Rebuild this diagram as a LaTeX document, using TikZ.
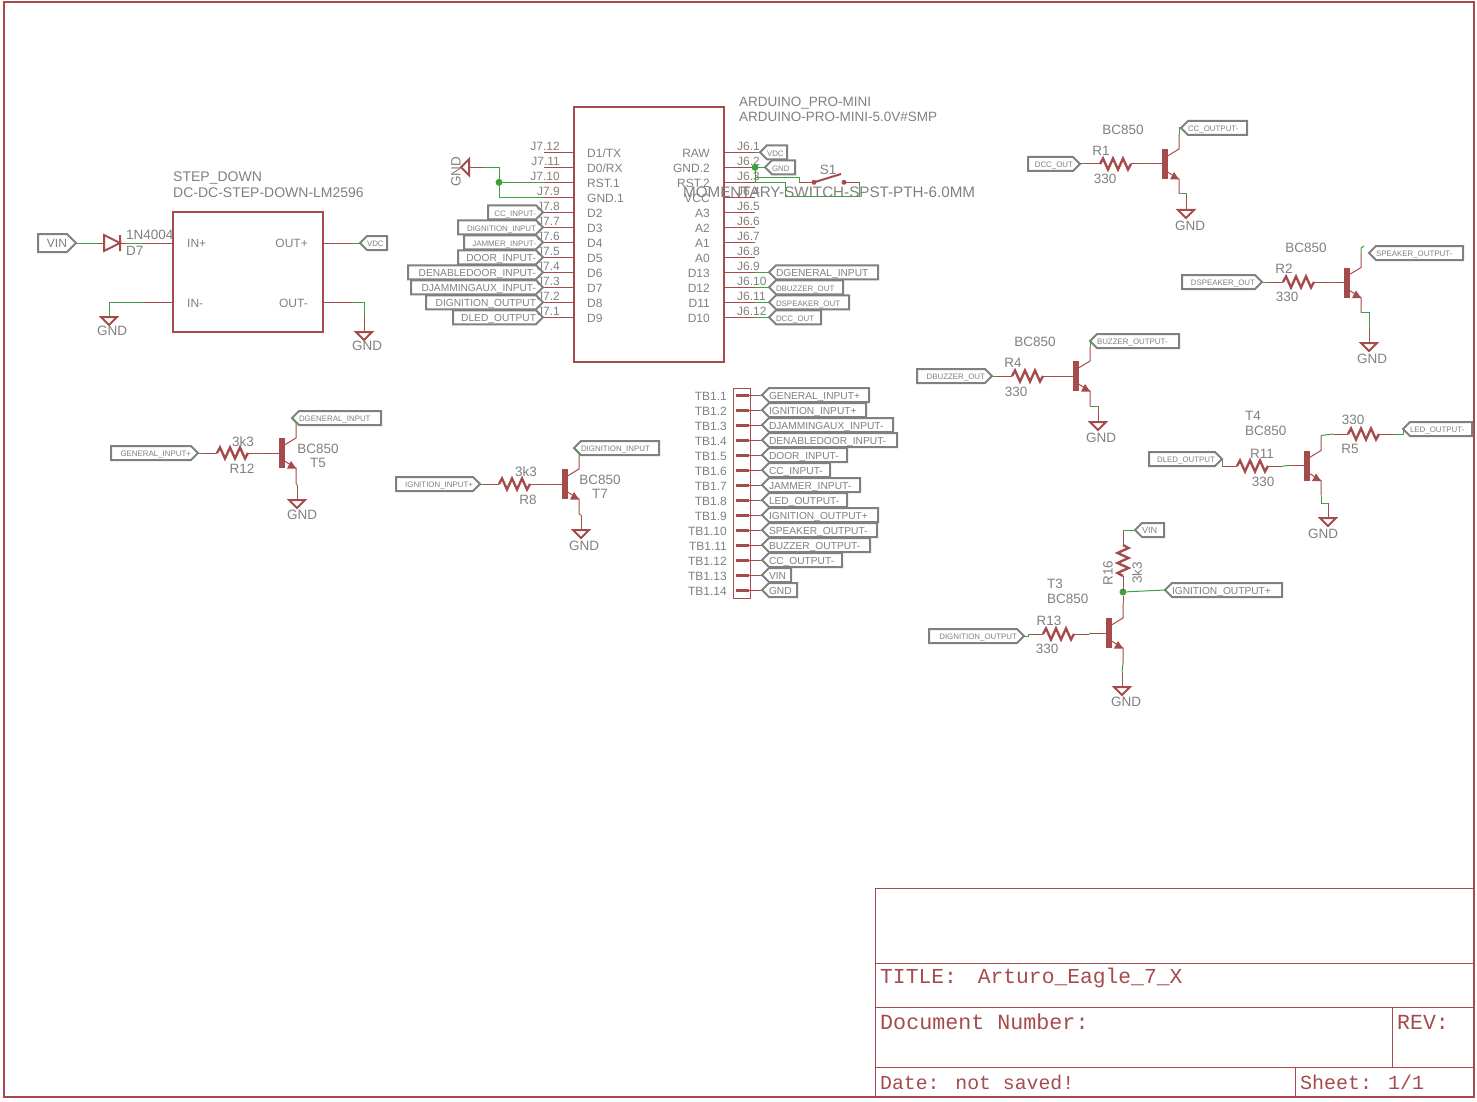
\documentclass[tikz,border=0pt]{standalone}
\usepackage{fontspec}
\setmainfont{Liberation Sans}
\newfontfamily\blockfont{Liberation Mono}
\usetikzlibrary{shapes.symbols}
\definecolor{schred}{RGB}{165,75,75}
\definecolor{schgreen}{RGB}{63,160,63}
\definecolor{labgray}{RGB}{128,128,128}
\newcommand{\pxfont}[1]{\fontsize{#1}{#1}\selectfont}
\tikzset{
  pinwire/.style={schred,line width=1pt},
  netwire/.style={schgreen,line width=1pt},
  partbox/.style={draw=schred,line width=2pt,inner sep=0,outer sep=0},
  partlbl/.style={text=labgray,font={\pxfont{13.5}},inner sep=0,yshift=-1pt},
  pinlbl/.style={text=labgray,font={\pxfont{12}},inner sep=0,yshift=-1pt},
  blocklbl/.style={text=schred,font={\blockfont\pxfont{21.5}},inner sep=0,anchor=west,yshift=-1pt},
  netlab/.style={shape=signal,signal pointer angle=90,draw=labgray,line width=2pt,text=labgray,inner sep=0,outer sep=0,minimum height=14},
  netr/.style={netlab,signal to=east,anchor=east,align=right},
  netl/.style={netlab,signal to=west,anchor=west,align=left},
  labw/.style={text width={((#1)-7)*1pt},minimum width={(#1)*1pt}},
  big/.style={font={\pxfont{10.2}},text height=9.3,text depth=0},
  small/.style={font={\pxfont{7.9}},text height=7.7,text depth=0},
  junct/.style={circle,fill=schgreen,inner sep=0,minimum size=7},
  resistor/.pic={
    \draw[pinwire] (-15,0) coordinate (-a) -- (0,0);
    \draw[schred,line width=2.4pt] (0,0) -- (3,-5.5) -- (8,5.5) -- (13,-5.5) -- (18,5.5) -- (23,-5.5) -- (28,5.5) -- (31,0);
    \draw[pinwire] (31,0) -- (46,0) coordinate (-k);
  },
  npn/.pic={
    \fill[schred] (0,-15) rectangle (5.5,15);
    \draw[pinwire] (-15,0) coordinate (-b) -- (0,0);
    \draw[pinwire] (5.5,-8) -- (17,-15) -- (17,-30) coordinate (-c);
    \draw[pinwire] (5.5,8) -- (17,15) -- (17,30) coordinate (-e);
    \fill[schred] (17,15.5) -- (12,8) -- (8,15.5) -- cycle;
  },
  gndsym/.pic={
    \draw[pinwire] (0,-15) coordinate (-t) -- (0,0) coordinate (-m);
    \draw[schred,line width=2pt] (-8,0) -- (8,0) -- (0,8) -- cycle;
  },
}
\begin{document}
\begin{tikzpicture}[x=1pt,y=-1pt]
  \useasboundingbox (0,0) rectangle (1477,1102);
  % sheet frame and title block
  \draw[schred,line width=2pt] (4,2) rectangle (1474,1097);
  \draw[schred,line width=1pt] (875,888) rectangle (1474,1097);
  \draw[schred,line width=1pt] (875,963) -- (1474,963) (875,1007) -- (1474,1007) (875,1067) -- (1474,1067);
  \draw[schred,line width=1pt] (1392,1007) -- (1392,1067) (1295,1067) -- (1295,1097);
  \node[blocklbl,font={\blockfont\pxfont{21.3}}] (title) at (880,977) {TITLE:\hspace{21pt}Arturo\_Eagle\_7\_X};
  \node[blocklbl,font={\blockfont\pxfont{21.7}}] (docnum) at (880,1021) {Document Number:};
  \node[blocklbl] (rev) at (1397,1021) {REV:};
  \node[blocklbl,font={\blockfont\pxfont{19.8}}] (date) at (880,1081) {Date: not saved!};
  \node[blocklbl,font={\blockfont\pxfont{20}}] (sheet) at (1300,1081) {Sheet: 1/1};

  % step down module
  \node[partbox,minimum width=150,minimum height=120] (stepdown) at (248,272) {};
  \node[partlbl,font={\pxfont{14}},anchor=west] (stepname) at (173,177) {STEP\_DOWN};
  \node[partlbl,font={\pxfont{14}},anchor=west] (stepval) at (173,192) {DC-DC-STEP-DOWN-LM2596};
  \node[pinlbl,anchor=west] (inp) at (187,242) {IN+};
  \node[pinlbl,anchor=west] (inm) at (187,302) {IN-};
  \node[pinlbl,anchor=east] (outp) at (308,242) {OUT+};
  \node[pinlbl,anchor=east] (outm) at (308,302) {OUT-};
  \node[netr,font={\pxfont{12}},text height=8.6,text depth=0,text width=29pt,minimum width=38,minimum height=18] (vinl) at (76,243) {VIN};
  \coordinate (da) at (97,243);
  \coordinate (dk) at (127,243);
  \coordinate (inpin) at (143,243);
  \draw[netwire] (vinl.east) -- (da);
  \draw[pinwire] (da) -- (104,243) (120,243) -- (dk);
  \draw[schred,line width=2pt] (104,235) -- (120,243) -- (104,251) -- cycle (120,235) -- (120,251);
  \draw[netwire] (dk) -- (inpin);
  \draw[pinwire] (inpin) -- (stepdown.west |- inpin);
  \node[partlbl,anchor=west] (d7val) at (126,234) {1N4004};
  \node[partlbl,anchor=west] (d7) at (126,250) {D7};
  \coordinate (outppin) at (353,243);
  \draw[pinwire] (stepdown.east |- outppin) -- (outppin);
  \node[netl,small,labw=27] (vdca) at (360,243) {VDC};
  \draw[netwire] (outppin) -- (vdca.west);
  \coordinate (inmpin) at (143,302);
  \coordinate (outmpin) at (353,302);
  \draw[pinwire] (inmpin) -- (stepdown.west |- inmpin);
  \draw[pinwire] (stepdown.east |- outmpin) -- (outmpin);
  \pic (gnda) at (109,317) {gndsym};
  \pic (gndb) at (364,332) {gndsym};
  \draw[netwire] (inmpin) -- (gnda-t) -- (gnda-m);
  \draw[netwire] (outmpin) -| (gndb-t);
  \node[partlbl] (gndatxt) at (112,330) {GND};
  \node[partlbl] (gndbtxt) at (367,345) {GND};

  % pro mini
  \node[partbox,minimum width=150,minimum height=255] (mini) at (649,234.5) {};
  \node[partlbl,anchor=west] (mininame) at (739,102) {ARDUINO\_PRO-MINI};
  \node[partlbl,anchor=west] (minival) at (739,116) {ARDUINO-PRO-MINI-5.0V\#SMP};
  \foreach \pn/\jn [count=\k from 0, evaluate=\k as \y using 152.3+15*\k] in {{D1/TX}/J7.12,{D0/RX}/J7.11,RST.1/J7.10,GND.1/J7.9,D2/J7.8,D3/J7.7,D4/J7.6,D5/J7.5,D6/J7.4,D7/J7.3,D8/J7.2,D9/J7.1} {
    \coordinate (jl\k) at (544,\y);
    \draw[pinwire] (jl\k) -- (mini.west |- jl\k);
    \node[pinlbl,anchor=west] (pl\k) at (587,\y) {\pn};
    \node[pinlbl,anchor=east] (jlt\k) at (560,\y-7) {\jn};
  }
  \foreach \pn/\jn [count=\k from 0, evaluate=\k as \y using 152.3+15*\k] in {RAW/J6.1,GND.2/J6.2,RST.2/J6.3,VCC/J6.4,A3/J6.5,A2/J6.6,A1/J6.7,A0/J6.8,D13/J6.9,D12/J6.10,D11/J6.11,D10/J6.12} {
    \coordinate (jr\k) at (755,\y);
    \draw[pinwire] (mini.east |- jr\k) -- (jr\k);
    \node[pinlbl,anchor=east] (pr\k) at (710,\y) {\pn};
    \node[pinlbl,anchor=west] (jrt\k) at (737,\y-7) {\jn};
  }
  \foreach \n/\lx/\k/\f/\s in {cci/488/4/small/CC\_INPUT-,dignin/458/5/small/DIGNITION\_INPUT,jami/464/6/small/JAMMER\_INPUT-,doori/458/7/big/DOOR\_INPUT-,denabi/408/8/big/DENABLEDOOR\_INPUT-,djami/411/9/big/DJAMMINGAUX\_INPUT-,digout/426/10/big/DIGNITION\_OUTPUT,dledo/453/11/big/DLED\_OUTPUT} {
    \node[netr,\f,labw={543-\lx}] (\n) at (543,152.3+15*\k) {\s};
    \draw[netwire] (\n.east) -- (jl\k);
  }
  \foreach \n/\rx/\k/\f/\s in {dgeni/878/8/big/DGENERAL\_INPUT,dbuzo/843/9/small/DBUZZER\_OUT,dspko/849/10/small/DSPEAKER\_OUT,dccout/821/11/small/DCC\_OUT} {
    \node[netl,\f,labw={\rx-769}] (\n) at (769,152.3+15*\k) {\s};
    \draw[netwire] (jr\k) -- (\n.west);
  }
  \node[netl,small,labw=27] (vdcb) at (760,152.3) {VDC};
  \node[netl,small,labw=30] (gndl) at (765,167.3) {GND};
  \draw[netwire] (jr0) -- (vdcb.west);
  \draw[netwire] (jr1) -- (gndl.west);
  \draw[netwire] (jr1) -- (jr2);
  \node[junct] (jnb) at (jr1) {};

  % left gnd of the mini
  \pic[rotate=-90] (gndc) at (469,167.3) {gndsym};
  \coordinate (gndcnr) at (499,167.3);
  \draw[netwire] (gndc-t) -- (gndcnr) -- (gndcnr |- jl3) -- (jl3);
  \draw[netwire] (gndcnr |- jl2) -- (jl2);
  \node[junct] (jna) at (gndcnr |- jl2) {};
  \node[partlbl,rotate=90] (gndctxt) at (456,171) {GND};

  % reset switch
  \coordinate (s1a) at (799,182.3);
  \coordinate (s1b) at (859,182.3);
  \draw[pinwire] (s1a) -- (814,182.3) (844,182.3) -- (s1b);
  \draw[schred,line width=2pt] (814,182.3) -- (841,174);
  \fill[schred] (814,182.3) circle (2.5) (844,182.3) circle (2.5);
  \draw[netwire] (755,178) -- (799,178) -- (s1a);
  \draw[netwire] (jr2) -- (785,182.3) -- (785,197) -- (859,197) -- (s1b);
  \node[partlbl] (s1txt) at (828,169) {S1};
  \node[partlbl,font={\pxfont{15.2}},anchor=west] (s1val) at (683,191) {MOMENTARY-SWITCH-SPST-PTH-6.0MM};

  % terminal block
  \node[draw=schred,line width=1pt,inner sep=0,minimum width=17,minimum height=210] (tb) at (742,493) {};
  \foreach \tn/\rx/\f/\s [count=\k from 0, evaluate=\k as \y using 395+15*\k] in {TB1.1/869/big/GENERAL\_INPUT+,TB1.2/866/big/IGNITION\_INPUT+,TB1.3/893/big/DJAMMINGAUX\_INPUT-,TB1.4/897/big/DENABLEDOOR\_INPUT-,TB1.5/847/big/DOOR\_INPUT-,TB1.6/830/big/CC\_INPUT-,TB1.7/860/big/JAMMER\_INPUT-,TB1.8/847/big/LED\_OUTPUT-,TB1.9/878/big/IGNITION\_OUTPUT+,TB1.10/877/big/SPEAKER\_OUTPUT-,TB1.11/870/big/BUZZER\_OUTPUT-,TB1.12/842/big/CC\_OUTPUT-,TB1.13/791/big/VIN,TB1.14/797/big/GND} {
    \draw[schred,line width=3pt] (736,\y) -- (749,\y);
    \coordinate (tbp\k) at (760,\y);
    \draw[pinwire] (749,\y) -- (tbp\k);
    \node[netl,\f,labw={\rx-762}] (tbl\k) at (762,\y) {\s};
    \draw[netwire] (tbp\k) -- (tbl\k.west);
    \node[pinlbl,anchor=east] (tbt\k) at (727,\y) {\tn};
  }

  % T5
  \pic (r12) at (217,453) {resistor};
  \pic (t5) at (279,453) {npn};
  \pic (gndt5) at (297,500) {gndsym};
  \node[netr,small,labw=87] (ginp) at (198,453) {GENERAL\_INPUT+};
  \node[netl,small,labw=89] (dginp) at (292,418) {DGENERAL\_INPUT};
  \draw[netwire] (ginp.east) -- (r12-a);
  \draw[netwire] (r12-k) -- (t5-b);
  \draw[netwire] (t5-c) -- (dginp.west);
  \draw[netwire] (t5-e) -- (gndt5-t);
  \node[partlbl] (r12val) at (243,441) {3k3};
  \node[partlbl] (r12txt) at (242,468) {R12};
  \node[partlbl] (t5val) at (318,448) {BC850};
  \node[partlbl] (t5txt) at (318,462) {T5};
  \node[partlbl] (gndt5txt) at (302,514) {GND};

  % T7
  \pic (r8) at (499,484) {resistor};
  \pic (t7) at (562,484) {npn};
  \pic (gndt7) at (581,530) {gndsym};
  \node[netr,small,labw=84] (iginp) at (480,484) {IGNITION\_INPUT+};
  \node[netl,small,labw=85] (diginp) at (574,448) {DIGNITION\_INPUT};
  \draw[netwire] (iginp.east) -- (r8-a);
  \draw[netwire] (r8-k) -- (t7-b);
  \draw[netwire] (t7-c) -- (diginp.west);
  \draw[netwire] (t7-e) -- (gndt7-t);
  \node[partlbl] (r8val) at (526,471) {3k3};
  \node[partlbl] (r8txt) at (528,499) {R8};
  \node[partlbl] (t7val) at (600,479) {BC850};
  \node[partlbl] (t7txt) at (600,493) {T7};
  \node[partlbl] (gndt7txt) at (584,545) {GND};

  % T1
  \pic (r1) at (1100,164) {resistor};
  \pic (t1) at (1162,164) {npn};
  \pic (gndt1) at (1186,210) {gndsym};
  \node[netr,small,labw=52] (dccin) at (1080,164) {DCC\_OUT};
  \node[netl,small,labw=66] (ccout) at (1181,128) {CC\_OUTPUT-};
  \draw[netwire] (dccin.east) -- (r1-a);
  \draw[netwire] (r1-k) -- (t1-b);
  \draw[netwire] (t1-c) |- (ccout.west);
  \draw[netwire] (t1-e) -| (gndt1-t);
  \node[partlbl] (t1val) at (1123,129) {BC850};
  \node[partlbl] (r1txt) at (1101,150) {R1};
  \node[partlbl] (r1val) at (1105,178) {330};
  \node[partlbl] (gndt1txt) at (1190,225) {GND};

  % T2
  \pic (r2) at (1283,282) {resistor};
  \pic (t2) at (1344,282.5) {npn};
  \pic (gndt2) at (1369,343) {gndsym};
  \node[netr,small,labw=80] (dspkin) at (1262,282) {DSPEAKER\_OUT};
  \node[netl,small,labw=94] (spko) at (1369,253) {SPEAKER\_OUTPUT-};
  \coordinate (t2end) at (1364,246);
  \draw[netwire] (dspkin.east) -- (r2-a);
  \draw[netwire] (r2-k) -- (t2-b);
  \draw[netwire] (t2-c) -- (1361,248) -- (t2end);
  \draw[netwire] (t2-e) -| (gndt2-t);
  \node[partlbl] (t2val) at (1306,247) {BC850};
  \node[partlbl] (r2txt) at (1284,268) {R2};
  \node[partlbl] (r2val) at (1287,296) {330};
  \node[partlbl] (gndt2txt) at (1372,358) {GND};

  % T4 (buzzer)
  \pic (r4) at (1012,376) {resistor};
  \pic (t6) at (1073,376) {npn};
  \pic (gndt6) at (1098,422) {gndsym};
  \node[netr,small,labw=75] (dbuzin) at (992,376) {DBUZZER\_OUT};
  \node[netl,small,labw=89] (buzo) at (1090,341) {BUZZER\_OUTPUT-};
  \draw[netwire] (dbuzin.east) -- (r4-a);
  \draw[netwire] (r4-k) -- (t6-b);
  \draw[netwire] (t6-c) -- (buzo.west);
  \draw[netwire] (t6-e) -| (gndt6-t);
  \node[partlbl] (t6val) at (1035,341) {BC850};
  \node[partlbl] (r4txt) at (1013,362) {R4};
  \node[partlbl] (r4val) at (1016,391) {330};
  \node[partlbl] (gndt6txt) at (1101,437) {GND};

  % T4 (led)
  \pic (r11) at (1237,466) {resistor};
  \pic (t4) at (1304,465.5) {npn};
  \pic (r5) at (1348,434) {resistor};
  \pic (gndt4) at (1328,518) {gndsym};
  \node[netr,small,labw=73] (dledin) at (1222,459) {DLED\_OUTPUT};
  \node[netl,small,labw=69] (ledo) at (1403,429) {LED\_OUTPUT-};
  \draw[netwire] (dledin.east) -- (r11-a);
  \draw[netwire] (r11-k) -- (t4-b);
  \draw[netwire] (t4-c) -- (r5-a);
  \draw[netwire] (r5-k) -| (ledo.west);
  \draw[netwire] (t4-e) |- (gndt4-t);
  \node[partlbl,anchor=west] (t4txt) at (1245,415) {T4};
  \node[partlbl,anchor=west] (t4val) at (1245,430) {BC850};
  \node[partlbl] (r11txt) at (1262,453) {R11};
  \node[partlbl] (r11val) at (1263,481) {330};
  \node[partlbl] (r5val) at (1353,419) {330};
  \node[partlbl] (r5txt) at (1350,448) {R5};
  \node[partlbl] (gndt4txt) at (1323,533) {GND};

  % T3
  \pic (r13) at (1043,634) {resistor};
  \pic (t3) at (1106,633) {npn};
  \pic[rotate=-90] (r16) at (1123,545) {resistor};
  \pic (gndt3) at (1122,687) {gndsym};
  \node[netr,small,labw=95] (digoutb) at (1024,636) {DIGNITION\_OUTPUT};
  \node[netl,small,font={\pxfont{9}},labw=29] (vinr) at (1135,530) {VIN};
  \node[netl,big,labw=117] (igout) at (1165,590) {IGNITION\_OUTPUT+};
  \node[junct] (jnc) at (1123,592) {};
  \draw[netwire] (digoutb.east) -| (r13-a);
  \draw[netwire] (r13-k) -- (t3-b);
  \draw[pinwire] (t3-c) -- (jnc);
  \draw[pinwire] (r16-k) -- (jnc);
  \draw[netwire] (r16-a) -- (vinr.west);
  \draw[netwire] (jnc) -- (igout.west);
  \draw[netwire] (t3-e) -- (gndt3-t);
  \node[partlbl,anchor=west] (t3txt) at (1047,583) {T3};
  \node[partlbl,anchor=west] (t3val) at (1047,598) {BC850};
  \node[partlbl] (r13txt) at (1049,620) {R13};
  \node[partlbl] (r13val) at (1047,648) {330};
  \node[partlbl,rotate=90] (r16txt) at (1108,572) {R16};
  \node[partlbl,rotate=90] (r16val) at (1137,572) {3k3};
  \node[partlbl] (gndt3txt) at (1126,701) {GND};
\end{tikzpicture}
\end{document}
